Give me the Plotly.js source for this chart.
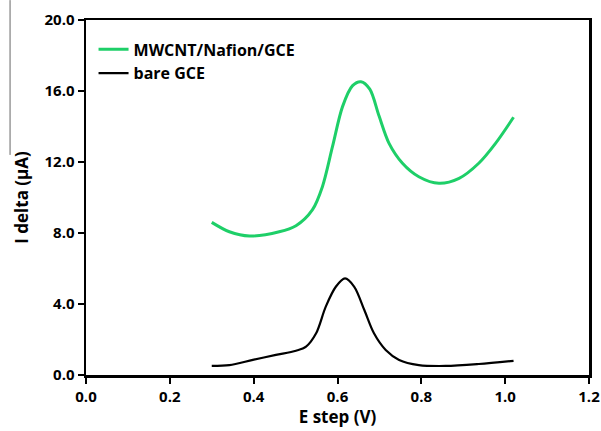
<!DOCTYPE html>
<html>
<head>
<meta charset="utf-8">
<script src="https://cdn.plot.ly/plotly-3.0.1.min.js"></script>
<style>
  html, body { margin: 0; padding: 0; background: #fff; }
  #chart { width: 601px; height: 431px; }
</style>
</head>
<body>
<div id="chart"></div>
<script>
// Differential pulse voltammograms: step potential vs. current difference
const mwcntE = [0.30, 0.342, 0.39, 0.461, 0.501, 0.540, 0.564, 0.588, 0.612, 0.636, 0.656, 0.677, 0.699, 0.723, 0.755, 0.794, 0.842, 0.890, 0.937, 0.977, 1.02];
const mwcntI = [8.60, 8.07, 7.83, 8.07, 8.41, 9.30, 10.61, 12.86, 15.12, 16.30, 16.52, 16.10, 14.60, 13.05, 11.93, 11.17, 10.80, 11.08, 11.93, 13.05, 14.52];

const bareE = [0.30, 0.342, 0.398, 0.453, 0.501, 0.525, 0.549, 0.572, 0.596, 0.618, 0.640, 0.664, 0.687, 0.715, 0.747, 0.794, 0.858, 0.937, 1.02];
const bareI = [0.51, 0.56, 0.85, 1.13, 1.37, 1.60, 2.35, 3.85, 4.97, 5.44, 4.97, 3.66, 2.35, 1.41, 0.85, 0.56, 0.51, 0.62, 0.80];

const xTicks = [0, 0.2, 0.4, 0.6, 0.8, 1.0, 1.2];
const xTickText = ['0.0', '0.2', '0.4', '0.6', '0.8', '1.0', '1.2'];
const yTicks = [0, 4, 8, 12, 16, 20];
const yTickText = ['0.0', '4.0', '8.0', '12.0', '16.0', '20.0'];

const fontFam = '"Open Sans", "Noto Sans", sans-serif';

const traces = [
  {
    x: mwcntE, y: mwcntI, name: 'MWCNT/Nafion/GCE', type: 'scatter', mode: 'lines',
    line: { color: '#1ecf68', width: 3, shape: 'spline', smoothing: 0.9 }
  },
  {
    x: bareE, y: bareI, name: 'bare GCE', type: 'scatter', mode: 'lines',
    line: { color: '#000000', width: 2.2, shape: 'spline', smoothing: 0.9 }
  }
];

const axisCommon = {
  showgrid: false, zeroline: false,
  showline: true, linecolor: '#000', linewidth: 2.5, mirror: true,
  ticks: 'outside', ticklen: 6, tickwidth: 2, tickcolor: '#000',
  tickfont: { family: fontFam, size: 15, color: '#000', weight: 'bold' }
};

const layout = {
  width: 601, height: 431,
  margin: { l: 86, r: 12, t: 20, b: 56 },
  paper_bgcolor: '#fff', plot_bgcolor: '#fff',
  font: { family: fontFam, color: '#000' },
  showlegend: true,
  legend: {
    x: 0.015, y: 0.965, xanchor: 'left', yanchor: 'top',
    bgcolor: 'rgba(0,0,0,0)', borderwidth: 0,
    font: { family: fontFam, size: 16, color: '#000', weight: 'bold' },
    itemwidth: 30, tracegroupgap: 0
  },
  xaxis: Object.assign({}, axisCommon, {
    range: [0, 1.2], tickvals: xTicks, ticktext: xTickText,
    title: { text: 'E step (V)', font: { family: fontFam, size: 17, color: '#000', weight: 'bold' }, standoff: 4 }
  }),
  yaxis: Object.assign({}, axisCommon, {
    range: [0, 20], tickvals: yTicks, ticktext: yTickText,
    title: { text: 'I delta (µA)', font: { family: fontFam, size: 17, color: '#000', weight: 'bold' }, standoff: 12 }
  }),
  shapes: [
    {
      type: 'line', xref: 'paper', yref: 'paper',
      x0: -0.151, x1: -0.151, y0: 1.056, y1: 0.62,
      line: { color: '#666', width: 1 }
    }
  ]
};

Plotly.newPlot('chart', traces, layout, { displayModeBar: false, staticPlot: true });
</script>
</body>
</html>
